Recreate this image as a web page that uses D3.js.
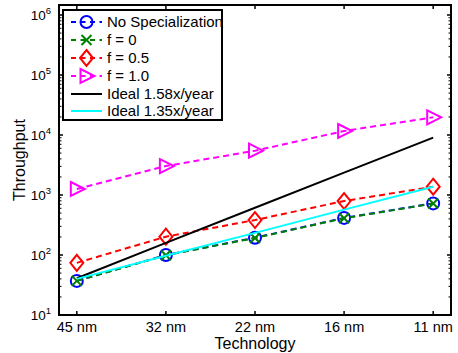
<!DOCTYPE html>
<html><head><meta charset="utf-8">
<script src="https://cdn.jsdelivr.net/npm/d3@7"></script>
<style>body{margin:0;background:#fff}svg{display:block;font-family:"Liberation Sans",Arial,sans-serif}</style>
</head><body><svg id="c" width="458" height="353"></svg>
<script>
const categories = ["45 nm","32 nm","22 nm","16 nm","11 nm"];
const noSpec   = [37, 100, 194, 415, 725];
const f0       = [37, 99, 192, 410, 720];
const f05      = [74, 202, 383, 794, 1374];
const f10      = [1259, 3040, 5470, 11660, 19730];
const ideal158 = [41, 159, 612, 2355, 9020];
const ideal135 = [40, 97, 234, 571, 1374];
const yTickVals = [1e1, 1e2, 1e3, 1e4, 1e5, 1e6];
const yTickExp  = ["1","2","3","4","5","6"];
const seriesNames = ["No Specialization","f = 0","f = 0.5","f = 1.0","Ideal 1.58x/year","Ideal 1.35x/year"];

const series = [
  {name:seriesNames[0], values:noSpec,   color:"#0000ff", dash:"6,4", marker:"circle"},
  {name:seriesNames[1], values:f0,       color:"#008000", dash:"6,4", marker:"x"},
  {name:seriesNames[2], values:f05,      color:"#ff0000", dash:"6,4", marker:"diamond"},
  {name:seriesNames[3], values:f10,      color:"#ff00ff", dash:"6,4", marker:"tri"},
  {name:seriesNames[4], values:ideal158, color:"#000000", dash:null,  marker:null},
  {name:seriesNames[5], values:ideal135, color:"#00ffff", dash:null,  marker:null}
];

const L=59, R=451, T=5, B=315;
const svg = d3.select("#c");
const x = d3.scaleLinear().domain([-0.2, categories.length-0.8]).range([L, R]);
const y = d3.scaleLog().domain([10, Math.pow(10, 6+10/60)]).range([B, T]);

function drawMarker(g, type, cx, cy, color){
  if(type==="circle"){
    g.append("circle").attr("cx",cx).attr("cy",cy).attr("r",6).attr("fill","none").attr("stroke",color).attr("stroke-width",2);
  } else if(type==="x"){
    g.append("path").attr("d",`M${cx-5},${cy-5}L${cx+5},${cy+5}M${cx-5},${cy+5}L${cx+5},${cy-5}`).attr("stroke",color).attr("stroke-width",2).attr("fill","none");
  } else if(type==="diamond"){
    g.append("path").attr("d",`M${cx},${cy-8}L${cx+6.5},${cy}L${cx},${cy+8}L${cx-6.5},${cy}Z`).attr("stroke",color).attr("stroke-width",2).attr("fill","none");
  } else if(type==="tri"){
    g.append("path").attr("d",`M${cx-6},${cy-7}L${cx+8},${cy}L${cx-6},${cy+7}Z`).attr("stroke",color).attr("stroke-width",2).attr("fill","none");
  }
}

// minor ticks
const minorVals = [];
for(let e=1;e<6;e++) for(let m=2;m<=9;m++) minorVals.push(m*Math.pow(10,e));
for(let m=2;m<=9 && m*1e6<=y.domain()[1];m++) minorVals.push(m*1e6);
const ax = svg.append("g");
minorVals.forEach(v=>{
  ax.append("line").attr("x1",L).attr("x2",L+2.5).attr("y1",y(v)).attr("y2",y(v)).attr("stroke","#000").attr("stroke-width",1);
  ax.append("line").attr("x1",R).attr("x2",R-2.5).attr("y1",y(v)).attr("y2",y(v)).attr("stroke","#000").attr("stroke-width",1);
});
yTickVals.forEach(v=>{
  ax.append("line").attr("x1",L).attr("x2",L+4).attr("y1",y(v)).attr("y2",y(v)).attr("stroke","#000").attr("stroke-width",1.5);
  ax.append("line").attr("x1",R).attr("x2",R-4).attr("y1",y(v)).attr("y2",y(v)).attr("stroke","#000").attr("stroke-width",1.5);
});
categories.forEach((c,i)=>{
  ax.append("line").attr("x1",x(i)).attr("x2",x(i)).attr("y1",B).attr("y2",B-4).attr("stroke","#000").attr("stroke-width",1.5);
  ax.append("line").attr("x1",x(i)).attr("x2",x(i)).attr("y1",T).attr("y2",T+4).attr("stroke","#000").attr("stroke-width",1.5);
  ax.append("text").attr("x",x(i)).attr("y",B+17).attr("text-anchor","middle").attr("font-size",14.5).text(c);
});
yTickVals.forEach((v,i)=>{
  const t = ax.append("text").attr("x",L-8).attr("y",y(v)+5).attr("text-anchor","end").attr("font-size",13.5);
  t.append("tspan").text("10");
  t.append("tspan").attr("dy",-6).attr("font-size",9.5).text(yTickExp[i]);
});

// series
const plot = svg.append("g");
const line = d3.line().x((d,i)=>x(i)).y(d=>y(d));
series.forEach(s=>{
  plot.append("path").datum(s.values).attr("d",line).attr("fill","none").attr("stroke",s.color).attr("stroke-width",2).attr("stroke-dasharray",s.dash);
  if(s.marker) s.values.forEach((v,i)=>drawMarker(plot,s.marker,x(i),y(v),s.color));
});

// frame
svg.append("rect").attr("x",L).attr("y",T).attr("width",R-L).attr("height",B-T).attr("fill","none").attr("stroke","#000").attr("stroke-width",2);

// axis labels
svg.append("text").attr("x",(L+R)/2).attr("y",349).attr("text-anchor","middle").attr("font-size",16).text("Technology");
svg.append("text").attr("transform",`translate(25,${(T+B)/2}) rotate(-90)`).attr("text-anchor","middle").attr("font-size",16).text("Throughput");

// legend
const lg = svg.append("g");
lg.append("rect").attr("x",63).attr("y",10).attr("width",159).attr("height",110).attr("fill","#fff").attr("stroke","#000").attr("stroke-width",2);
const rowY = [22, 40, 58, 76, 94, 111];
series.forEach((s,i)=>{
  const yy = rowY[i];
  lg.append("line").attr("x1",71).attr("x2",102).attr("y1",yy).attr("y2",yy).attr("stroke",s.color).attr("stroke-width",2).attr("stroke-dasharray",s.dash ? "5,4.5" : null);
  if(s.marker) drawMarker(lg,s.marker,86.5,yy,s.color);
  lg.append("text").attr("x",107).attr("y",yy+5).attr("font-size",15).text(s.name);
});
</script></body></html>
